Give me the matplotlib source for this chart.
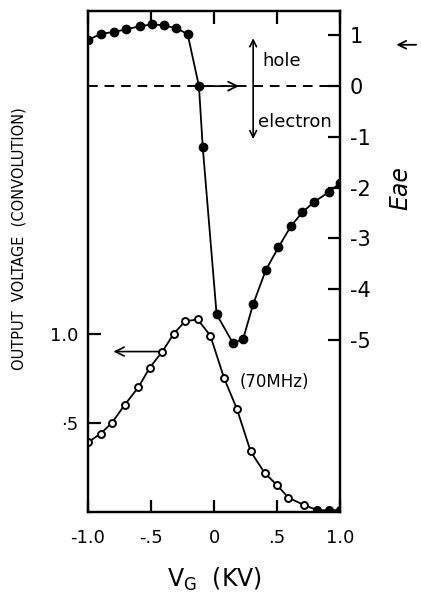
import matplotlib
matplotlib.use("Agg")
import matplotlib.pyplot as plt

# Eae (right axis), filled dots
vg_e = [-1.0, -0.9, -0.79, -0.7, -0.59, -0.49, -0.4, -0.3, -0.21, -0.12, -0.09,
        0.02, 0.15, 0.23, 0.31, 0.41, 0.51, 0.61, 0.7, 0.79, 0.91, 1.0]
eae = [0.91, 1.03, 1.07, 1.12, 1.18, 1.22, 1.2, 1.14, 1.03, 0.0, -1.2,
       -4.5, -5.07, -4.99, -4.3, -3.63, -3.18, -2.76, -2.49, -2.29, -2.09, -1.91]

# output voltage (convolution), open circles
vg_out = [-1.0, -0.9, -0.81, -0.71, -0.6, -0.51, -0.41, -0.32, -0.23, -0.13, -0.03,
          0.08, 0.18, 0.29, 0.4, 0.5, 0.59, 0.71, 0.82, 0.91, 1.0]
vout = [0.39, 0.44, 0.5, 0.6, 0.7, 0.81, 0.9, 1.0, 1.07, 1.08, 0.99,
        0.75, 0.58, 0.34, 0.22, 0.15, 0.08, 0.04, 0.01, 0.01, 0.01]

x_ticks = [-1.0, -0.5, 0.0, 0.5, 1.0]
x_labels = ["-1.0", "-.5", "0", ".5", "1.0"]
left_ticks = [0.5, 1.0]
left_labels = ["\u00b75", "1.0"]
right_ticks = [1, 0, -1, -2, -3, -4, -5]
right_labels = ["1", "0", "-1", "-2", "-3", "-4", "-5"]

plt.rcParams["font.family"] = ["DejaVu Sans"]

fig = plt.figure(figsize=(4.21, 5.97), dpi=100)
ax = fig.add_axes([0.209, 0.1424, 0.599, 0.839])
ax2 = ax.twinx()

ax.set_xlim(-1.0, 1.0)
ax.set_ylim(0, 2.81)
ax2.set_ylim(-8.4, 1.48)

for a in (ax, ax2):
    for s in a.spines.values():
        s.set_linewidth(1.6)

# output voltage curve
ax.plot(vg_out, vout, color="black", lw=1.3, zorder=3)
ax.plot(vg_out[:-3], vout[:-3], "o", ms=5, mfc="white", mec="black", mew=1.4, zorder=4)
ax.plot(vg_out[-3:], vout[-3:], "o", ms=5.5, color="black", zorder=4)

# Eae curve
ax2.plot(vg_e, eae, color="black", lw=1.3, marker="o", ms=6, zorder=3)
ax2.axhline(0, color="black", lw=1.4, ls=(0, (5, 3.5)), zorder=2)

# arrows
ax2.annotate("", xy=(0.22, 0), xytext=(-0.12, 0),
             arrowprops=dict(arrowstyle="->", lw=1.3, color="black", mutation_scale=16))
ax2.annotate("", xy=(0.31, 1.0), xytext=(0.31, -1.1),
             arrowprops=dict(arrowstyle="<->", lw=1.2, color="black", mutation_scale=12))
ax.annotate("", xy=(-0.82, 0.9), xytext=(-0.42, 0.9),
            arrowprops=dict(arrowstyle="->", lw=1.2, color="black", mutation_scale=16))

ax2.text(0.38, 0.5, "hole", fontsize=13, va="center", ha="left")
ax2.text(0.35, -0.7, "electron", fontsize=13, va="center", ha="left")
ax.text(0.2, 0.73, "(70MHz)", fontsize=12, va="center", ha="left")

# ticks (inward, like the hand-drawn axes)
ax.set_xticks(x_ticks)
ax.set_xticklabels(x_labels, fontsize=13)
ax.set_yticks(left_ticks)
ax.set_yticklabels(left_labels, fontsize=13)
ax.xaxis.set_ticks_position("both")
ax.tick_params(axis="both", direction="in", length=9, width=1.6, pad=7)
ax.tick_params(axis="x", labeltop=False, pad=12)
ax2.set_yticks(right_ticks)
ax2.set_yticklabels(right_labels, fontsize=15)
ax2.tick_params(axis="y", direction="in", length=9, width=1.6, pad=7)

ax.set_xlabel("V$_{\\rm G}$  (KV)", fontsize=17, labelpad=14)
fig.text(0.045, 0.6, "OUTPUT  VOLTAGE  (CONVOLUTION)", rotation=90,
         fontsize=10.5, ha="center", va="center")
fig.text(0.95, 0.685, "Eae", rotation=90, fontsize=17, style="italic",
         ha="center", va="center")
ax2.annotate("", xy=(0.935, 0.925), xytext=(0.995, 0.925), xycoords="figure fraction",
             textcoords="figure fraction",
             arrowprops=dict(arrowstyle="->", lw=1.3, color="black", mutation_scale=14))

fig.savefig("out.png", dpi=100)
